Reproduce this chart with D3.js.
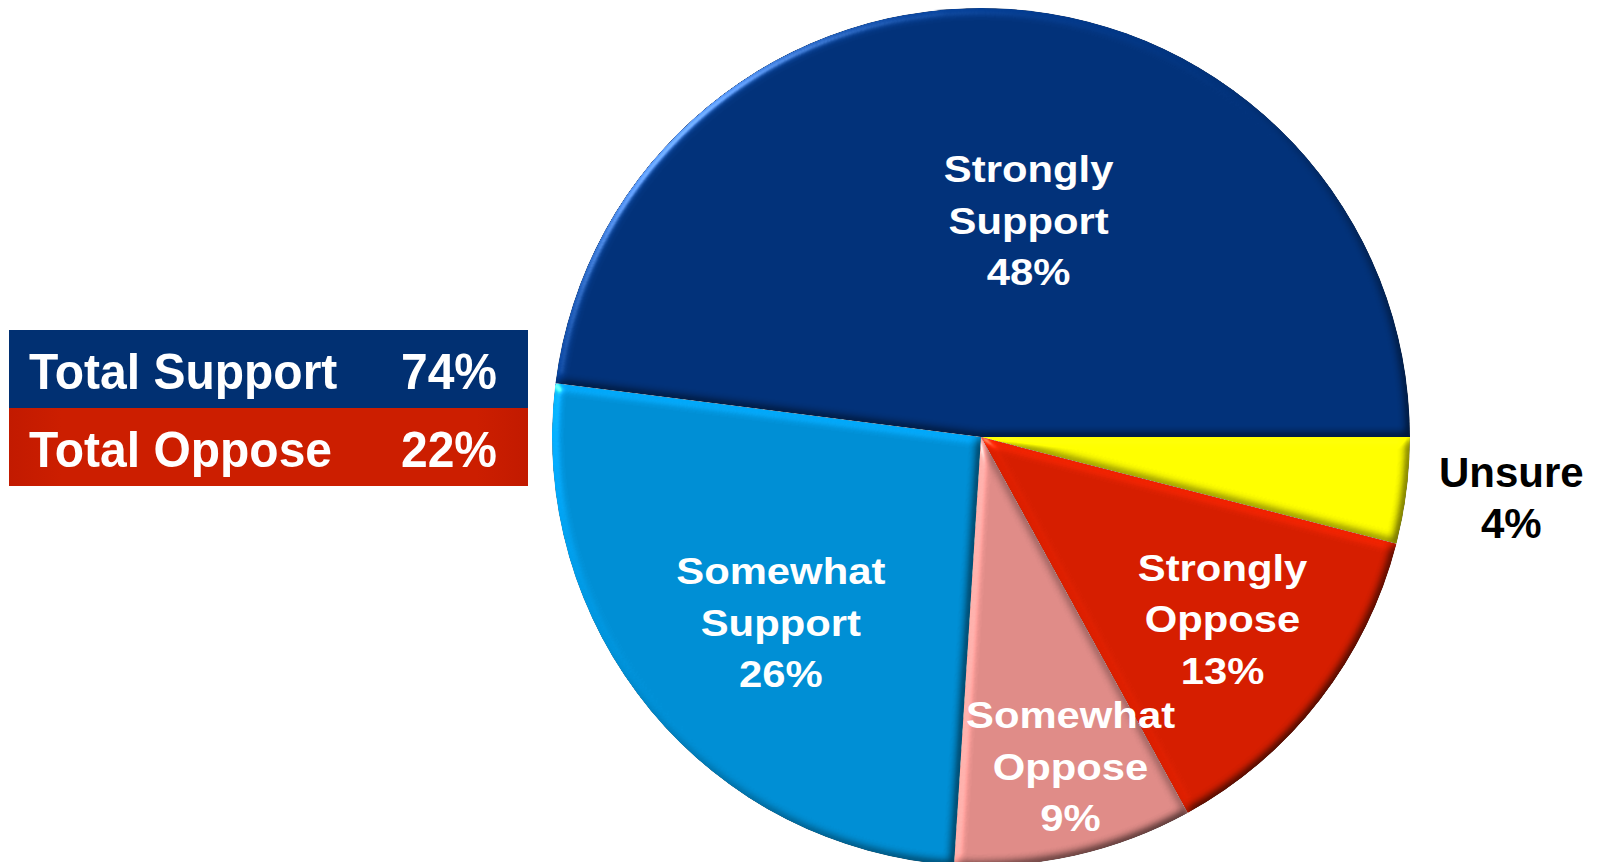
<!DOCTYPE html>
<html>
<head>
<meta charset="utf-8">
<script src="https://cdn.jsdelivr.net/npm/d3@7"></script>
<style>
  html, body { margin: 0; padding: 0; background: #ffffff; overflow: hidden; }
  svg { display: block; }
</style>
</head>
<body>
<svg id="chart" width="1600" height="862"></svg>
<script>
// ---------- data ----------
const categories = ["Strongly Support", "Unsure", "Strongly Oppose", "Somewhat Oppose", "Somewhat Support"];
const values = [48, 4, 13, 9, 26];
const labelLines = [["Strongly", "Support"], ["Unsure"], ["Strongly", "Oppose"], ["Somewhat", "Oppose"], ["Somewhat", "Support"]];
const sliceColors = ["#02327a", "#ffff00", "#d61e00", "#e08c88", "#008fd5"];
const labelColors = ["#ffffff", "#000000", "#ffffff", "#ffffff", "#ffffff"];
const totalLabels = ["Total Support", "Total Oppose"];
const totalValues = [74, 22];
const totalColors = ["#013072", "#cc1e00"];

// ---------- layout / style ----------
const W = 1600, H = 862;
const cx = 981, cy = 437, R = 429;
const firstSliceDeg = 277.2;               // rotation of first slice (clockwise from 12 o'clock)
// label placement: radius as fraction of R, angular offset (deg) from slice mid-angle
const labelRadius = [0.517, 1.244, 0.705, 0.796, 0.636];
const labelAngleShift = [8.8, -0.7, -0.8, -2.6, -3.2];

const svg = d3.select("#chart");
const defs = svg.append("defs");

// bevel filter
const f = defs.append("filter").attr("id", "bevel")
  .attr("x", "-5%").attr("y", "-5%").attr("width", "110%").attr("height", "110%")
  .attr("color-interpolation-filters", "sRGB");
f.append("feGaussianBlur").attr("in", "SourceAlpha").attr("stdDeviation", 5).attr("result", "blur");
const elev = 45;
const diff = f.append("feDiffuseLighting").attr("in", "blur").attr("surfaceScale", 3)
  .attr("diffuseConstant", 1).attr("lighting-color", "#ffffff").attr("result", "diff");
diff.append("feDistantLight").attr("azimuth", 225).attr("elevation", elev);
f.append("feComposite").attr("in", "SourceGraphic").attr("in2", "diff").attr("operator", "arithmetic")
  .attr("k1", 1 / Math.sin(elev * Math.PI / 180)).attr("k2", 0).attr("k3", 0).attr("k4", 0).attr("result", "lit");
f.append("feComposite").attr("in", "lit").attr("in2", "SourceAlpha").attr("operator", "in").attr("result", "litIn");
const spec = f.append("feSpecularLighting").attr("in", "blur").attr("surfaceScale", 3)
  .attr("specularConstant", 0.45).attr("specularExponent", 70).attr("lighting-color", "#ffffff").attr("result", "spec");
spec.append("feDistantLight").attr("azimuth", 225).attr("elevation", elev);
f.append("feComposite").attr("in", "spec").attr("in2", "SourceAlpha").attr("operator", "in").attr("result", "specIn");
f.append("feComposite").attr("in", "litIn").attr("in2", "specIn").attr("operator", "arithmetic")
  .attr("k1", 0).attr("k2", 1).attr("k3", 1).attr("k4", 0);

// legend gradient for red
const gRed = defs.append("linearGradient").attr("id", "gRed").attr("x1", 0).attr("x2", 1).attr("y1", 0).attr("y2", 0);
gRed.append("stop").attr("offset", "0%").attr("stop-color", "#c21a00");
gRed.append("stop").attr("offset", "10%").attr("stop-color", "#cc1e00");
gRed.append("stop").attr("offset", "90%").attr("stop-color", "#cc1e00");
gRed.append("stop").attr("offset", "100%").attr("stop-color", "#c21a00");

// ---------- pie ----------
const start = firstSliceDeg * Math.PI / 180 - 2 * Math.PI;
const pie = d3.pie().sort(null).value(d => d).startAngle(start).endAngle(start + 2 * Math.PI);
const arcs = pie(values);
const arc = d3.arc().innerRadius(0).outerRadius(R);

const g = svg.append("g").attr("transform", `translate(${cx},${cy})`);
g.selectAll("path.slice").data(arcs).join("path")
  .attr("class", "slice")
  .attr("d", arc)
  .attr("fill", (d, i) => sliceColors[i])
  .attr("filter", "url(#bevel)");

// labels
const fs = 37, lh = 51.5, sx = 1.13;
arcs.forEach((d, i) => {
  const mid = (d.startAngle + d.endAngle) / 2 + labelAngleShift[i] * Math.PI / 180;
  const r = labelRadius[i] * R;
  const x = Math.sin(mid) * r, y = -Math.cos(mid) * r;
  const lines = labelLines[i].concat([values[i] + "%"]);
  const isOut = labelColors[i] === "#000000";
  const size = isOut ? 42 : fs;
  const scaleX = isOut ? 1 : sx;
  const n = lines.length;
  const t = g.append("text")
    .attr("transform", `translate(${x},${y}) scale(${scaleX},1)`)
    .attr("text-anchor", "middle")
    .attr("font-family", "'Liberation Sans', Arial, sans-serif")
    .attr("font-weight", "bold")
    .attr("font-size", size)
    .attr("fill", labelColors[i]);
  lines.forEach((ln, j) => {
    t.append("tspan").attr("x", 0)
      .attr("y", (j - (n - 1) / 2) * lh + size * 0.36)
      .text(ln);
  });
});

// ---------- totals box ----------
const boxX = 9, boxW = 519, boxY = 330, rowH = 78;
const rows = svg.append("g");
totalLabels.forEach((lab, i) => {
  const y0 = boxY + i * rowH;
  rows.append("rect").attr("x", boxX).attr("y", y0).attr("width", boxW).attr("height", rowH)
    .attr("fill", i === 1 ? "url(#gRed)" : totalColors[i]);
  rows.append("text")
    .attr("transform", `translate(29,${y0 + rowH / 2 + 20}) scale(0.96,1)`)
    .attr("font-family", "'Liberation Sans', Arial, sans-serif")
    .attr("font-weight", "bold").attr("font-size", 50).attr("fill", "#ffffff")
    .text(lab);
  rows.append("text")
    .attr("transform", `translate(497,${y0 + rowH / 2 + 20}) scale(0.96,1)`)
    .attr("text-anchor", "end")
    .attr("font-family", "'Liberation Sans', Arial, sans-serif")
    .attr("font-weight", "bold").attr("font-size", 50).attr("fill", "#ffffff")
    .text(totalValues[i] + "%");
});
</script>
</body>
</html>
